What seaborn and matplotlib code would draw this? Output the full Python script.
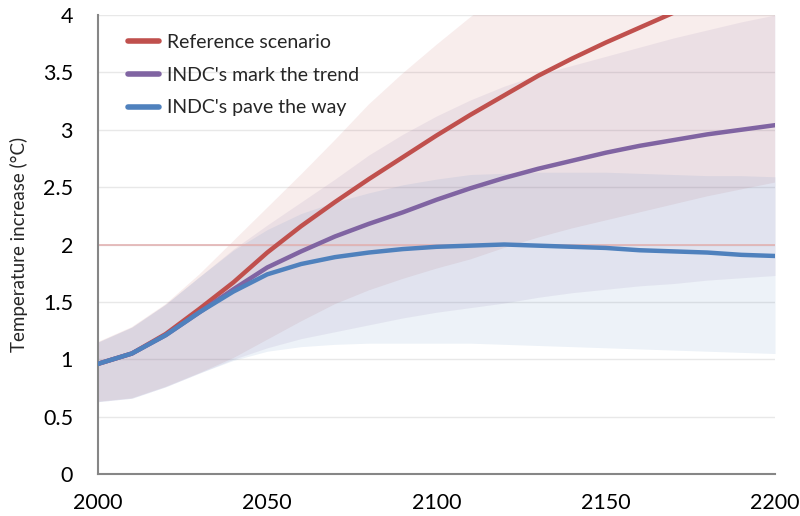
import matplotlib
matplotlib.use("Agg")
import matplotlib.pyplot as plt
import pandas as pd
import seaborn as sns

# Projected global temperature increase per scenario (°C above pre-industrial)
years = list(range(2000, 2201, 10))

reference_mid = [0.96, 1.05, 1.22, 1.44, 1.67, 1.93, 2.16, 2.37, 2.57, 2.76, 2.95,
                 3.13, 3.30, 3.47, 3.62, 3.76, 3.89, 4.02, 4.15, 4.27, 4.39]
mark_trend_mid = [0.96, 1.05, 1.21, 1.41, 1.61, 1.80, 1.94, 2.07, 2.18, 2.28, 2.39,
                  2.49, 2.58, 2.66, 2.73, 2.80, 2.86, 2.91, 2.96, 3.00, 3.04]
pave_way_mid = [0.96, 1.05, 1.21, 1.41, 1.59, 1.74, 1.83, 1.89, 1.93, 1.96, 1.98,
                1.99, 2.00, 1.99, 1.98, 1.97, 1.95, 1.94, 1.93, 1.91, 1.90]

# Uncertainty ranges
reference_low = [0.63, 0.66, 0.76, 0.88, 1.01, 1.17, 1.33, 1.48, 1.60, 1.70, 1.79,
                 1.87, 1.97, 2.06, 2.14, 2.21, 2.28, 2.35, 2.42, 2.48, 2.54]
reference_high = [1.15, 1.28, 1.48, 1.74, 2.03, 2.32, 2.61, 2.91, 3.22, 3.49, 3.74,
                  3.98, 4.20, 4.42, 4.63, 4.84, 5.04, 5.24, 5.43, 5.62, 5.80]
mark_trend_low = [0.63, 0.66, 0.76, 0.88, 1.00, 1.10, 1.18, 1.24, 1.30, 1.36, 1.41,
                  1.45, 1.49, 1.54, 1.58, 1.61, 1.64, 1.66, 1.69, 1.71, 1.73]
mark_trend_high = [1.15, 1.28, 1.48, 1.72, 1.96, 2.17, 2.37, 2.57, 2.78, 2.96, 3.12,
                   3.26, 3.38, 3.48, 3.56, 3.64, 3.72, 3.80, 3.87, 3.94, 4.00]
pave_way_low = [0.63, 0.66, 0.76, 0.88, 0.99, 1.07, 1.11, 1.13, 1.14, 1.14, 1.14,
                1.14, 1.13, 1.12, 1.11, 1.10, 1.09, 1.08, 1.07, 1.06, 1.05]
pave_way_high = [1.15, 1.28, 1.48, 1.72, 1.95, 2.13, 2.27, 2.37, 2.45, 2.52, 2.57,
                 2.61, 2.62, 2.63, 2.63, 2.63, 2.62, 2.61, 2.60, 2.60, 2.59]

scenarios = ["Reference scenario", "INDC's mark the trend", "INDC's pave the way"]
colors = ["#c0504d", "#8064a2", "#4f81bd"]

target_level = 2.0
y_ticks = [0, 0.5, 1, 1.5, 2, 2.5, 3, 3.5, 4]
y_tick_labels = ["0", "0.5", "1", "1.5", "2", "2.5", "3", "3.5", "4"]
x_ticks = list(range(2000, 2201, 25))
x_tick_labels = [str(t) if t % 50 == 0 else "" for t in x_ticks]
y_label = "Temperature increase (°C)"

mids = [reference_mid, mark_trend_mid, pave_way_mid]
lows = [reference_low, mark_trend_low, pave_way_low]
highs = [reference_high, mark_trend_high, pave_way_high]

df = pd.DataFrame({
    "year": years * len(scenarios),
    "temp": [v for m in mids for v in m],
    "scenario": [s for s in scenarios for _ in years],
})

sns.set_style("white")
plt.rcParams["font.family"] = ["Lato", "DejaVu Sans"]

fig = plt.figure(figsize=(8, 5.16), dpi=100)
ax = fig.add_axes([0.1225, 0.0814, 0.8463, 0.8895])

# Shaded ranges
for lo, hi, c in zip(lows, highs, colors):
    ax.fill_between(years, lo, hi, color=c, alpha=0.1, linewidth=0, zorder=1)

# 2 °C reference level
ax.axhline(target_level, color="#e3b3b2", lw=1.2, zorder=2)

sns.lineplot(data=df, x="year", y="temp", hue="scenario", hue_order=scenarios,
             palette=dict(zip(scenarios, colors)), linewidth=3.2, ax=ax, zorder=3)

ax.set_xlim(2000, 2200)
ax.set_ylim(0, 4)
ax.set_xticks(x_ticks)
ax.set_xticklabels(x_tick_labels)
ax.set_yticks(y_ticks)
ax.set_yticklabels(y_tick_labels)
ax.set_xlabel("")
ax.set_ylabel(y_label, fontsize=13.5)
ax.yaxis.set_label_coords(-0.104, 0.5)

ax.yaxis.grid(True, color="#e8e8e8", lw=1)
ax.set_axisbelow(True)

for side in ["top", "right"]:
    ax.spines[side].set_visible(False)
for side in ["left", "bottom"]:
    ax.spines[side].set_color("#868686")
    ax.spines[side].set_linewidth(1.5)

ax.tick_params(axis="both", direction="out", length=5, width=1.3,
               color="#868686", labelsize=15.5, labelcolor="black")
ax.tick_params(axis="x", pad=9)
ax.tick_params(axis="y", pad=13)

leg = ax.legend(loc="upper left", bbox_to_anchor=(0.044, 0.958), frameon=False,
                fontsize=14, handlelength=1.6, handletextpad=0.4, labelspacing=0.8,
                borderaxespad=0, borderpad=0)
for line in leg.get_lines():
    line.set_linewidth(4)

fig.savefig("out.png", dpi=100)
